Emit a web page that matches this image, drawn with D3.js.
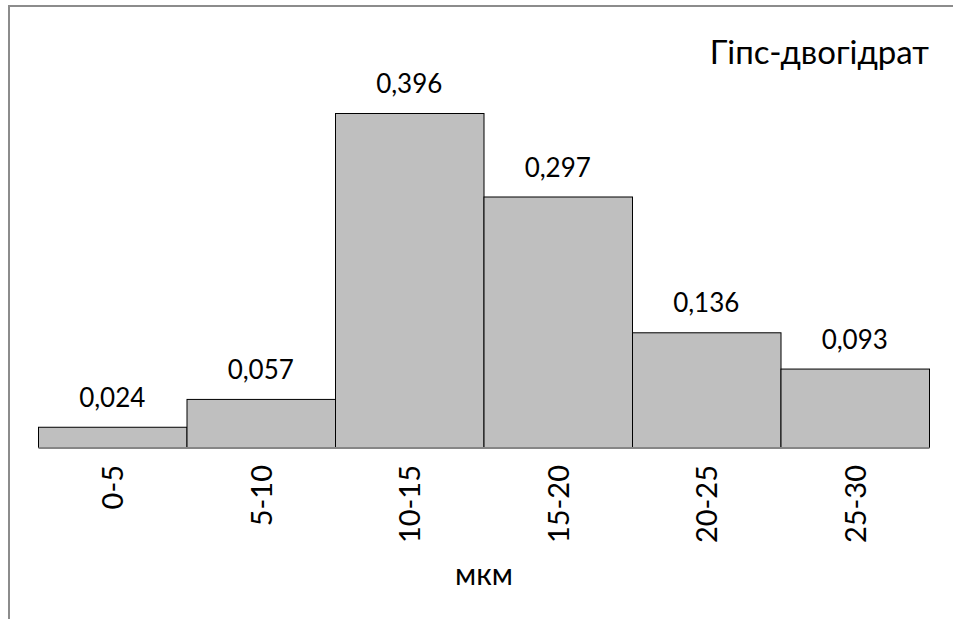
<!DOCTYPE html>
<html><head><meta charset="utf-8">
<script src="https://cdn.jsdelivr.net/npm/d3@7"></script>
<style>body{margin:0;background:#fff}svg{display:block;font-family:Lato,"Open Sans",sans-serif}</style>
</head><body>
<svg id="c" width="953" height="619"></svg>
<script>
const categories = ["0-5","5-10","10-15","15-20","20-25","25-30"];
const values = [0.024,0.057,0.396,0.297,0.136,0.093];
const valueLabels = ["0,024","0,057","0,396","0,297","0,136","0,093"];
const title = "Гіпс-двогідрат";
const axisTitle = "мкм";

const svg = d3.select("#c");
// chart frame
svg.append("line").attr("x1",9).attr("x2",953).attr("y1",6).attr("y2",6).attr("stroke","#8c8c8c").attr("stroke-width",2);
svg.append("line").attr("x1",9).attr("x2",9).attr("y1",5).attr("y2",619).attr("stroke","#8c8c8c").attr("stroke-width",2);

const x = d3.scaleBand().domain(categories).range([38,929]).padding(0);
const y = d3.scaleLinear().domain([0,0.396]).range([447,113]);

svg.selectAll("rect.bar").data(values).enter().append("rect")
  .attr("class","bar")
  .attr("x",(d,i)=>x(categories[i])+0.5)
  .attr("y",d=>y(d)+0.5)
  .attr("width",x.bandwidth())
  .attr("height",d=>y(0)-y(d))
  .attr("fill","#bfbfbf").attr("stroke","#000").attr("stroke-width",1);

// baseline axis
const ax = svg.append("g").attr("transform","translate(0,447.5)")
  .call(d3.axisBottom(x).tickSize(0).tickFormat(""));
ax.select(".domain").attr("stroke","#868686").attr("stroke-width",2);

svg.selectAll("text.val").data(values).enter().append("text")
  .attr("x",(d,i)=>x(categories[i])+x.bandwidth()/2)
  .attr("y",d=>y(d)-20)
  .attr("text-anchor","middle").attr("font-size",26).attr("fill","#000")
  .text((d,i)=>valueLabels[i]);

svg.selectAll("text.cat").data(categories).enter().append("text")
  .attr("transform",d=>`translate(${x(d)+x.bandwidth()/2+11},465) rotate(-90)`)
  .attr("text-anchor","end").attr("font-size",29).attr("fill","#000")
  .text(d=>d);

svg.append("text").attr("x",484).attr("y",585).attr("text-anchor","middle")
  .attr("font-size",30).attr("fill","#000").text(axisTitle);

svg.append("text").attr("x",929).attr("y",64).attr("text-anchor","end")
  .attr("font-size",33).attr("fill","#000").text(title);
</script>
</body></html>
